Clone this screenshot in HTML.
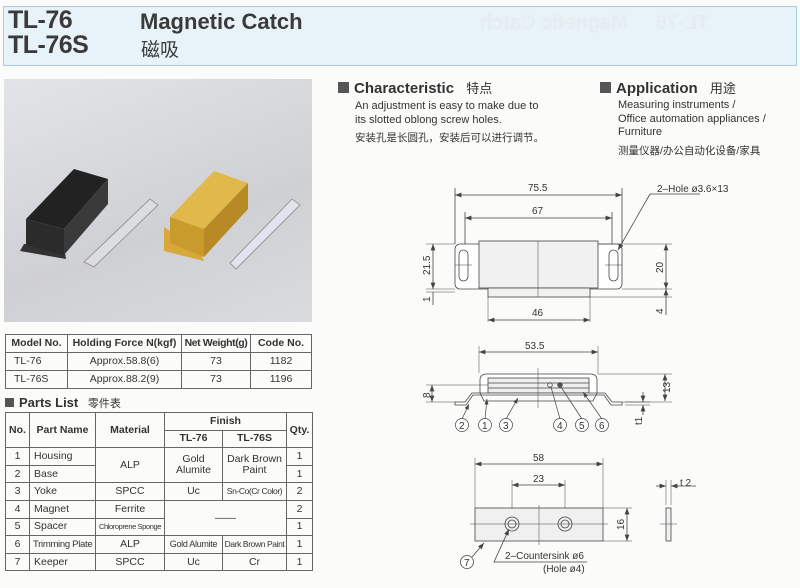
<!DOCTYPE html>
<html><head><meta charset="utf-8">
<style>
*{margin:0;padding:0;box-sizing:border-box}
body{width:800px;height:588px;background:#fbfbfa;font-family:"Liberation Sans","Noto Sans CJK SC",sans-serif;color:#333;position:relative;overflow:hidden}
.abs{position:absolute}
.hdr{left:3px;top:6px;width:794px;height:60px;background:#e7f3f8;border:1px solid #a9cbe0}
.big{font-weight:bold;font-size:25px;color:#3a3a3a;letter-spacing:-0.5px}
.sec{font-weight:bold;font-size:15px;color:#333}
.sq{display:inline-block;width:11px;height:11px;background:#555;margin-right:5px;vertical-align:0px}
.txt{font-size:11px;line-height:14px;color:#333}
table{border-collapse:collapse;position:absolute;font-size:10.5px;color:#333;table-layout:fixed}
td{border:1px solid #666;text-align:center;padding:0;line-height:11px;white-space:nowrap;overflow:hidden}
.t1 td{height:18px}
.t2 td{height:17.6px}
</style></head><body>
<div class="abs hdr"></div>
<div class="abs big" style="left:8px;top:8px;line-height:25px">TL-76<br>TL-76S</div>
<div class="abs" style="left:140px;top:9px;font-weight:bold;font-size:22px;color:#3a3a3a">Magnetic Catch</div>
<div class="abs" style="left:141px;top:35px;font-size:19px;color:#3a3a3a">磁吸</div>
<div class="abs" style="left:480px;top:12px;font-weight:bold;font-size:20px;color:#e6ecef;transform:scaleX(-1)">TL-76&nbsp;&nbsp;&nbsp;&nbsp;&nbsp;Magnetic Catch</div>

<div class="abs" style="left:4px;top:79px;width:308px;height:243px;background:linear-gradient(160deg,#e3e4e8,#cfd0d4 60%,#dadbde)"></div>
<svg class="abs" style="left:4px;top:79px" width="308" height="243">
<polygon points="20,165 60,168 62,180 16,172" fill="#333"/>
<polygon points="22,140 70,90 104,100 60,150" fill="#222"/>
<polygon points="22,140 60,150 60,176 22,166" fill="#2b2b2b"/>
<polygon points="60,150 104,100 104,125 60,176" fill="#3a3a3a"/>
<polygon points="80,183 146,120 154,126 90,188" fill="#dcdde0" stroke="#999"/>
<polygon points="160,148 196,173 200,182 160,172" fill="#d8a93a"/>
<polygon points="166,138 210,92 244,104 200,150" fill="#e0b94a"/>
<polygon points="166,138 200,150 200,178 166,164" fill="#c99b2c"/>
<polygon points="200,150 244,104 244,130 200,178" fill="#b88a25"/>
<polygon points="226,184 288,120 296,126 232,190" fill="#e1e4ee" stroke="#999"/>
</svg>

<table class="t1" style="left:5px;top:334px;width:307px">
<colgroup><col style="width:62px"><col style="width:114px"><col style="width:69px"><col></colgroup>
<tr style="font-weight:bold"><td><b>Model No.</b></td><td><b>Holding Force N(kgf)</b></td><td style="letter-spacing:-0.4px"><b>Net Weight(g)</b></td><td><b>Code No.</b></td></tr>
<tr><td style="text-align:left;padding-left:8px">TL-76</td><td>Approx.58.8(6)</td><td>73</td><td>1182</td></tr>
<tr><td style="text-align:left;padding-left:8px">TL-76S</td><td>Approx.88.2(9)</td><td>73</td><td>1196</td></tr>
</table>

<div class="abs sec" style="left:5px;top:395px;font-size:13px"><span class="sq" style="width:9px;height:9px"></span>Parts List <span style="font-weight:normal;font-size:11px;margin-left:6px">零件表</span></div>

<table class="t2" style="left:5px;top:412px;width:308px">
<colgroup><col style="width:24px"><col style="width:66px"><col style="width:69px"><col style="width:58px"><col style="width:64px"><col></colgroup>
<tr><td rowspan="2"><b>No.</b></td><td rowspan="2"><b>Part Name</b></td><td rowspan="2"><b>Material</b></td><td colspan="2"><b>Finish</b></td><td rowspan="2"><b>Qty.</b></td></tr>
<tr><td><b>TL-76</b></td><td><b>TL-76S</b></td></tr>
<tr><td>1</td><td style="text-align:left;padding-left:4px">Housing</td><td rowspan="2">ALP</td><td rowspan="2">Gold<br>Alumite</td><td rowspan="2">Dark Brown<br>Paint</td><td>1</td></tr>
<tr><td>2</td><td style="text-align:left;padding-left:4px">Base</td><td>1</td></tr>
<tr><td>3</td><td style="text-align:left;padding-left:4px">Yoke</td><td>SPCC</td><td>Uc</td><td style="font-size:8.5px;letter-spacing:-0.4px">Sn-Co(Cr Color)</td><td>2</td></tr>
<tr><td>4</td><td style="text-align:left;padding-left:4px">Magnet</td><td>Ferrite</td><td colspan="2" rowspan="2">——</td><td>2</td></tr>
<tr><td>5</td><td style="text-align:left;padding-left:4px">Spacer</td><td style="font-size:7.5px;letter-spacing:-0.4px">Chloroprene Sponge</td><td>1</td></tr>
<tr><td>6</td><td style="text-align:left;padding-left:3px;font-size:9.5px;letter-spacing:-0.3px">Trimming Plate</td><td>ALP</td><td style="font-size:9px;letter-spacing:-0.3px">Gold Alumite</td><td style="font-size:8.5px;letter-spacing:-0.4px">Dark Brown Paint</td><td>1</td></tr>
<tr><td>7</td><td style="text-align:left;padding-left:4px">Keeper</td><td>SPCC</td><td>Uc</td><td>Cr</td><td>1</td></tr>
</table>

<div class="abs sec" style="left:338px;top:78px"><span class="sq"></span>Characteristic <span style="font-weight:normal;font-size:13px;margin-left:8px">特点</span></div>
<div class="abs txt" style="left:355px;top:99px">An adjustment is easy to make due to<br>its slotted oblong screw holes.</div>
<div class="abs txt" style="left:355px;top:131px;font-size:10.5px">安装孔是长圆孔，安装后可以进行调节。</div>
<div class="abs sec" style="left:600px;top:78px"><span class="sq"></span>Application <span style="font-weight:normal;font-size:13px;margin-left:8px">用途</span></div>
<div class="abs txt" style="left:618px;top:99px;line-height:13.5px">Measuring instruments /<br>Office automation appliances /<br>Furniture</div>
<div class="abs txt" style="left:618px;top:144px;font-size:10.5px">测量仪器/办公自动化设备/家具</div>

<svg class="abs" style="left:0;top:0" width="800" height="588" font-family="Liberation Sans, sans-serif" font-size="10" fill="none" stroke="#444" stroke-width="0.8">
<defs><marker id="a" markerWidth="8" markerHeight="6" refX="8" refY="3" orient="auto-start-reverse"><path d="M0,0 L8,3 L0,6z" fill="#444" stroke="none"/></marker></defs>
<line x1="455" y1="188" x2="455" y2="244"/><line x1="622" y1="188" x2="622" y2="244"/>
<line x1="465" y1="212" x2="465" y2="262"/><line x1="612" y1="212" x2="612" y2="262"/>
<line x1="455" y1="195" x2="622" y2="195" marker-start="url(#a)" marker-end="url(#a)"/>
<line x1="465" y1="218" x2="612" y2="218" marker-start="url(#a)" marker-end="url(#a)"/>
<rect x="455" y="244" width="167" height="45" rx="5" fill="#fff"/>
<rect x="479" y="241" width="119" height="47" fill="#f1f1f1"/>
<rect x="488" y="288" width="102" height="9" fill="#f1f1f1"/>
<rect x="459" y="250" width="9" height="31" rx="4.5"/><rect x="609" y="250" width="9" height="31" rx="4.5"/>
<line x1="455" y1="265" x2="472" y2="265" stroke-width="0.5"/><line x1="605" y1="265" x2="622" y2="265" stroke-width="0.5"/>
<line x1="538" y1="241" x2="538" y2="297" stroke-width="0.5"/>
<line x1="426" y1="244" x2="455" y2="244" stroke-width="0.5"/><line x1="426" y1="289" x2="455" y2="289" stroke-width="0.5"/><line x1="426" y1="292" x2="455" y2="292" stroke-width="0.5"/>
<line x1="433" y1="244" x2="433" y2="289" marker-start="url(#a)" marker-end="url(#a)"/>
<line x1="433" y1="292" x2="433" y2="305"/>
<line x1="598" y1="244" x2="672" y2="244" stroke-width="0.5"/><line x1="622" y1="289" x2="672" y2="289" stroke-width="0.5"/><line x1="590" y1="297" x2="672" y2="297" stroke-width="0.5"/>
<line x1="666" y1="244" x2="666" y2="289" marker-start="url(#a)" marker-end="url(#a)"/>
<line x1="666" y1="289" x2="666" y2="315" marker-start="url(#a)"/>
<line x1="488" y1="297" x2="488" y2="322" stroke-width="0.5"/><line x1="590" y1="297" x2="590" y2="322" stroke-width="0.5"/>
<line x1="488" y1="320" x2="590" y2="320" marker-start="url(#a)" marker-end="url(#a)"/>
<line x1="650" y1="194" x2="618" y2="250" marker-end="url(#a)"/><line x1="650" y1="194" x2="700" y2="194"/>
<g fill="#333" stroke="none">
<text x="528" y="191">75.5</text><text x="532" y="214">67</text><text x="532" y="316">46</text>
<text x="657" y="192">2–Hole ø3.6×13</text>
<text transform="translate(430,275) rotate(-90)">21.5</text><text transform="translate(430,302) rotate(-90)">1</text>
<text transform="translate(663,273) rotate(-90)">20</text><text transform="translate(663,314) rotate(-90)">4</text>
</g>
<line x1="479" y1="346" x2="479" y2="373" stroke-width="0.5"/><line x1="598" y1="346" x2="598" y2="373" stroke-width="0.5"/>
<line x1="479" y1="352" x2="598" y2="352" marker-start="url(#a)" marker-end="url(#a)"/>
<path d="M480,395 L480,380 Q480,374 487,374 L590,374 Q597,374 597,380 L597,395" fill="#fff"/>
<rect x="488" y="378" width="101" height="15" fill="#eee"/>
<line x1="488" y1="383" x2="589" y2="383"/><line x1="488" y1="388" x2="589" y2="388"/>
<path d="M455,405 L466,405 L473,395 L604,395 L611,405 L622,405 L622,402 L612,402 L605,393 L472,393 L465,402 L455,402 Z" fill="#fff"/>
<path d="M480,393 L484,401 L593,401 L597,393" />
<line x1="538" y1="368" x2="538" y2="408" stroke-width="0.5"/>
<circle cx="550" cy="385" r="2.3"/><circle cx="560" cy="385" r="2.3" fill="#555"/>
<line x1="597" y1="374" x2="672" y2="374" stroke-width="0.5"/><line x1="622" y1="402" x2="672" y2="402" stroke-width="0.5"/>
<line x1="665" y1="374" x2="665" y2="401" marker-start="url(#a)" marker-end="url(#a)"/>
<line x1="426" y1="385" x2="488" y2="385" stroke-width="0.5"/><line x1="426" y1="402" x2="455" y2="402" stroke-width="0.5"/>
<line x1="432" y1="385" x2="432" y2="402" marker-start="url(#a)" marker-end="url(#a)"/>
<line x1="625" y1="402" x2="650" y2="402" stroke-width="0.5"/><line x1="625" y1="405" x2="650" y2="405" stroke-width="0.5"/>
<line x1="643" y1="392" x2="643" y2="402" marker-end="url(#a)"/><line x1="643" y1="415" x2="643" y2="405" marker-end="url(#a)"/>
<g stroke-width="0.7">
<line x1="462" y1="419" x2="469" y2="404" marker-end="url(#a)"/><line x1="485" y1="419" x2="487" y2="399" marker-end="url(#a)"/>
<line x1="506" y1="419" x2="518" y2="398" marker-end="url(#a)"/><line x1="560" y1="419" x2="551" y2="387"/>
<line x1="582" y1="419" x2="561" y2="387"/><line x1="602" y1="419" x2="583" y2="392" marker-end="url(#a)"/>
<circle cx="462" cy="425" r="6.5" fill="#fff"/><circle cx="485" cy="425" r="6.5" fill="#fff"/><circle cx="506" cy="425" r="6.5" fill="#fff"/>
<circle cx="560" cy="425" r="6.5" fill="#fff"/><circle cx="582" cy="425" r="6.5" fill="#fff"/><circle cx="602" cy="425" r="6.5" fill="#fff"/>
</g>
<g fill="#333" stroke="none">
<text x="525" y="349">53.5</text>
<text x="459" y="429">2</text><text x="482" y="429">1</text><text x="503" y="429">3</text><text x="557" y="429">4</text><text x="579" y="429">5</text><text x="599" y="429">6</text>
<text transform="translate(670,393) rotate(-90)">13</text><text transform="translate(430,398) rotate(-90)">8</text>
<text transform="translate(642,425) rotate(-90)">t1</text>
</g>
<line x1="475" y1="458" x2="475" y2="508" stroke-width="0.5"/><line x1="603" y1="458" x2="603" y2="508" stroke-width="0.5"/>
<line x1="475" y1="464" x2="603" y2="464" marker-start="url(#a)" marker-end="url(#a)"/>
<line x1="512" y1="480" x2="512" y2="524" stroke-width="0.5"/><line x1="565" y1="480" x2="565" y2="524" stroke-width="0.5"/>
<line x1="512" y1="485" x2="565" y2="485" marker-start="url(#a)" marker-end="url(#a)"/>
<rect x="475" y="508" width="128" height="33" fill="#f0f0f0"/>
<line x1="470" y1="524" x2="608" y2="524" stroke-width="0.5"/><line x1="539" y1="505" x2="539" y2="545" stroke-width="0.5"/>
<circle cx="512" cy="524" r="7"/><circle cx="512" cy="524" r="4"/><circle cx="565" cy="524" r="7"/><circle cx="565" cy="524" r="4"/>
<line x1="603" y1="508" x2="632" y2="508" stroke-width="0.5"/><line x1="603" y1="541" x2="632" y2="541" stroke-width="0.5"/>
<line x1="627" y1="508" x2="627" y2="541" marker-start="url(#a)" marker-end="url(#a)"/>
<rect x="666" y="508" width="5" height="33" fill="#f0f0f0"/>
<line x1="660" y1="524" x2="677" y2="524" stroke-width="0.5"/>
<line x1="666" y1="480" x2="666" y2="505" stroke-width="0.5"/><line x1="671" y1="480" x2="671" y2="505" stroke-width="0.5"/>
<line x1="656" y1="486" x2="666" y2="486" marker-end="url(#a)"/><line x1="696" y1="486" x2="671" y2="486" marker-end="url(#a)"/>
<line x1="472" y1="557" x2="484" y2="543" marker-end="url(#a)"/>
<circle cx="467" cy="562" r="6.5" fill="#fff"/>
<polyline points="587,562 494,562 509,529" marker-end="url(#a)"/>
<g fill="#333" stroke="none">
<text x="533" y="461">58</text><text x="533" y="482">23</text>
<text transform="translate(624,530) rotate(-90)">16</text><text x="680" y="486">t 2</text>
<text x="464" y="566">7</text>
<text x="505" y="559">2–Countersink ø6</text><text x="543" y="572">(Hole ø4)</text>
</g>
</svg>
</body></html>
